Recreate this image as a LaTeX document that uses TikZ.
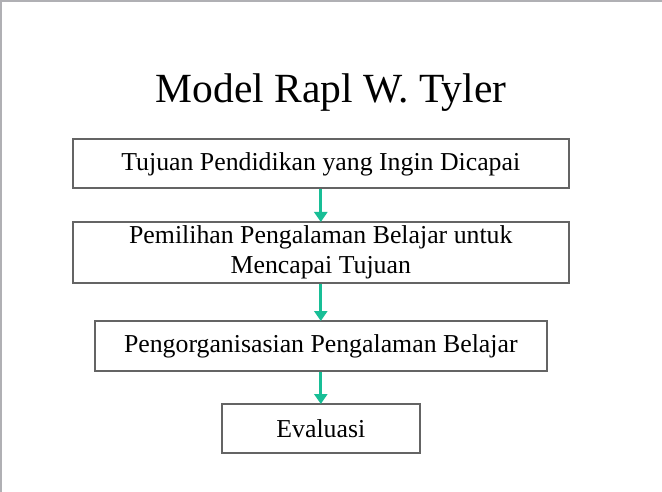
\documentclass[tikz,border=0pt]{standalone}
\usepackage{fontspec}
\setmainfont{Liberation Serif}
\usetikzlibrary{arrows.meta}
\definecolor{boxgray}{RGB}{100,100,100}
\definecolor{framegray}{RGB}{176,176,180}
\definecolor{teal}{RGB}{24,190,150}
\begin{document}
\begin{tikzpicture}[x=1pt,y=-1pt,
  stepbox/.style={draw=boxgray,line width=2pt,inner sep=0pt,align=center,
    font=\fontsize{25.8}{29.5}\selectfont},
  flow/.style={draw=teal,line width=3pt,-{Triangle[length=10pt,width=13pt]},shorten >=-1pt}]
\useasboundingbox (0,0) rectangle (662,492);
\fill[white] (0,0) rectangle (662,492);
\draw[framegray,line width=2pt] (1,492) -- (1,1) -- (662,1);
\node[font=\fontsize{41.5}{44}\selectfont] (title) at (331,93) {Model Rapl W. Tyler};
\node[stepbox,minimum width=496pt,minimum height=49pt] (b1) at (320.8,164) {Tujuan Pendidikan yang Ingin Dicapai};
\node[stepbox,minimum width=496pt,minimum height=61pt] (b2) at (320.8,252.5) {Pemilihan Pengalaman Belajar untuk\\Mencapai Tujuan};
\node[stepbox,minimum width=452pt,minimum height=50pt] (b3) at (320.8,346) {Pengorganisasian Pengalaman Belajar};
\node[stepbox,minimum width=198pt,minimum height=49pt] (b4) at (320.8,428.5) {Evaluasi};
\draw[flow] (b1.south) -- (b2.north);
\draw[flow] (b2.south) -- (b3.north);
\draw[flow] (b3.south) -- (b4.north);
\end{tikzpicture}
\end{document}
